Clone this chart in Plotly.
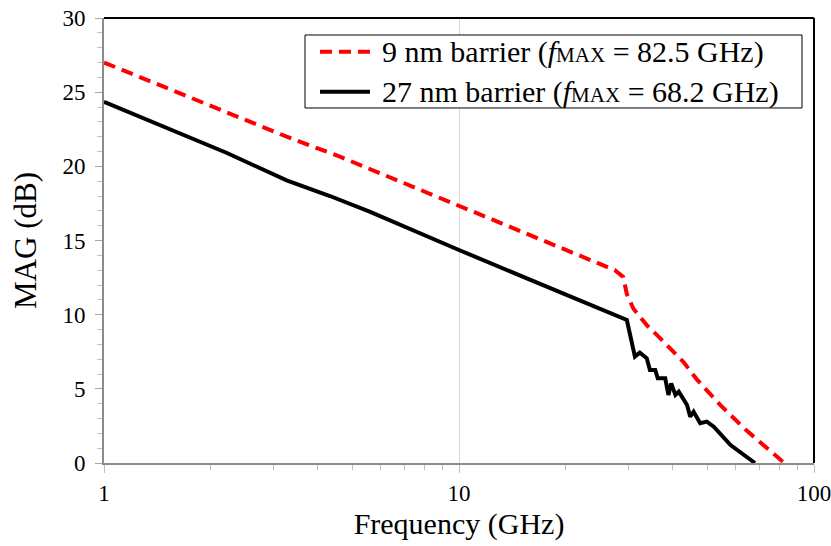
import plotly.graph_objects as go

# Maximum available gain vs. frequency for two barrier thicknesses
freq_9nm = [1.0, 3.27, 4.62, 10.0, 25.0, 27.5, 29.0, 29.7, 31.0, 33.8, 36.9, 42.9, 46.9, 54.5, 64.5, 82.5]
mag_9nm = [27.0, 22.0, 20.65, 17.35, 13.45, 13.0, 12.55, 11.4, 10.4, 9.3, 8.4, 6.8, 5.6, 3.9, 2.2, 0.0]

freq_27nm = [1.0, 2.22, 3.27, 4.33, 5.6, 10.0, 20.0, 29.7, 31.3, 32.3, 33.8, 34.5, 35.7, 36.3, 38.1,
             38.9, 39.6, 40.7, 41.6, 43.9, 44.8, 45.8, 47.8, 49.9, 52.2, 58.2, 68.2]
mag_27nm = [24.35, 20.9, 19.05, 18.0, 16.95, 14.36, 11.35, 9.64, 7.17, 7.44, 7.06, 6.27, 6.27, 5.71, 5.71,
            4.59, 5.37, 4.59, 4.81, 3.91, 3.12, 3.46, 2.68, 2.79, 2.45, 1.21, 0.0]

label_9nm = "9 nm barrier (<i>f</i><span style='font-size:21px'>MAX</span> = 82.5 GHz)"
label_27nm = "27 nm barrier (<i>f</i><span style='font-size:21px'>MAX</span> = 68.2 GHz)"

x_ticks = [1, 10, 100]
x_minor = [2, 3, 4, 5, 6, 7, 8, 9, 20, 30, 40, 50, 60, 70, 80, 90]
y_ticks = [0, 5, 10, 15, 20, 25, 30]

FONT = "Liberation Serif"
AXIS_GRAY = "#8c8c8c"
RED_LINE = dict(color="#ff0000", width=4, dash="12px,7px")
BLACK_LINE = dict(color="#000000", width=4)

fig = go.Figure()
fig.add_trace(go.Scatter(x=freq_9nm, y=mag_9nm, mode="lines", name="9 nm barrier", line=RED_LINE))
fig.add_trace(go.Scatter(x=freq_27nm, y=mag_27nm, mode="lines", name="27 nm barrier", line=BLACK_LINE))

# Boxed legend in the upper right of the plot area (paper coordinates)
box = dict(x0=0.2831, x1=0.9831, y0=0.7978, y1=0.9618)
rows = [(0.9243, RED_LINE, label_9nm), (0.8344, BLACK_LINE, label_27nm)]
sample_x0, sample_x1, text_x = 0.3042, 0.3746, 0.3887

shapes = [
    # black frame on the top and right sides
    dict(type="line", xref="paper", yref="paper", x0=0, x1=1, y0=1, y1=1,
         line=dict(color="black", width=2)),
    dict(type="line", xref="paper", yref="paper", x0=1, x1=1, y0=0, y1=1,
         line=dict(color="black", width=2)),
    dict(type="rect", xref="paper", yref="paper", fillcolor="white",
         line=dict(color="black", width=1), **box),
]
annotations = []
for y_row, style, text in rows:
    shapes.append(dict(type="line", xref="paper", yref="paper",
                       x0=sample_x0, x1=sample_x1, y0=y_row, y1=y_row, line=style))
    annotations.append(dict(xref="paper", yref="paper", x=text_x, y=y_row,
                            xanchor="left", yanchor="middle", showarrow=False, text=text,
                            font=dict(family=FONT, size=30, color="black")))

fig.update_layout(
    width=831, height=546,
    margin=dict(l=104, r=17, t=18, b=83),
    plot_bgcolor="white", paper_bgcolor="white",
    font=dict(family=FONT, color="black", size=23),
    showlegend=False,
    xaxis=dict(
        type="log", range=[0, 2], automargin=False,
        tickmode="array", tickvals=x_ticks, ticktext=["1", "10", "100"],
        ticklabeloverflow="allow",
        ticks="outside", ticklen=8, tickcolor="#bfbfbf", tickwidth=1,
        showline=True, linecolor=AXIS_GRAY, linewidth=2,
        showgrid=True, gridcolor="#d9d9d9", gridwidth=1,
        zeroline=False,
        minor=dict(tickmode="array", tickvals=x_minor, ticks="outside",
                   ticklen=5, tickcolor="#bfbfbf", showgrid=False),
        tickfont=dict(family=FONT, size=23),
        title=dict(text="Frequency (GHz)", font=dict(family=FONT, size=30), standoff=8),
    ),
    yaxis=dict(
        range=[0, 30], automargin=False,
        tickmode="array", tickvals=y_ticks,
        ticks="outside", ticklen=7, tickcolor="#a6a6a6", tickwidth=1,
        ticklabelstandoff=5,
        showline=True, linecolor=AXIS_GRAY, linewidth=2,
        showgrid=False, zeroline=False,
        minor=dict(dtick=1, ticks="outside", ticklen=5, tickcolor="#bfbfbf", showgrid=False),
        tickfont=dict(family=FONT, size=23),
        title=dict(text="MAG (dB)", font=dict(family=FONT, size=31), standoff=17),
    ),
    shapes=shapes,
    annotations=annotations,
)

fig.write_html("out.html")
